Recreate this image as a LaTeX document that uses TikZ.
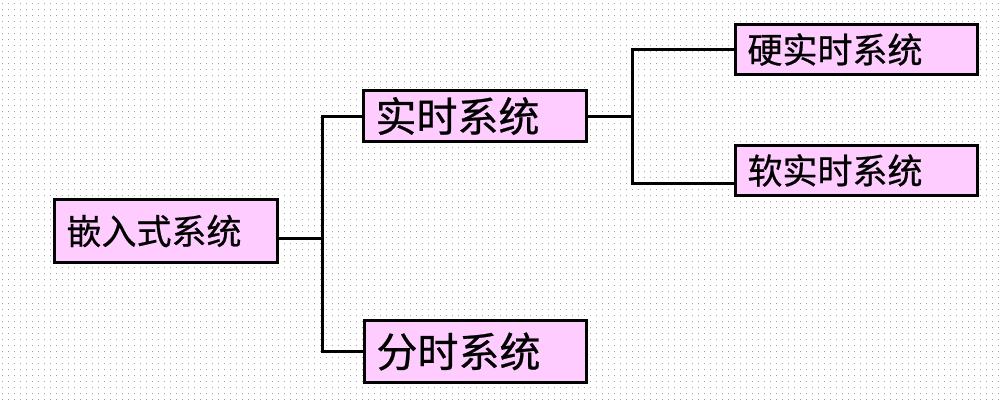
\documentclass[tikz,border=0pt]{standalone}
\usepackage{fontspec}
\newfontfamily\cjk[FakeBold=0.6]{Noto Sans CJK SC}
\definecolor{boxpink}{RGB}{255,204,255}
\definecolor{dotgray}{RGB}{165,165,165}
\tikzset{
  box/.style={draw=black, line width=3pt, fill=boxpink, inner xsep=12pt, inner ysep=0pt,
    font=\cjk\fontsize{35}{35}\selectfont, align=left, anchor=center},
  bigbox/.style={box, font=\cjk\fontsize{41}{41}\selectfont},
  conn/.style={draw=black, line width=3pt},
  dotline/.style={draw=dotgray, line width=1pt, dash pattern=on 1pt off 5pt}
}
\begin{document}
\begin{tikzpicture}[x=1pt,y=-1pt]
\useasboundingbox (0,0) rectangle (1003,400);
\fill[white] (0,0) rectangle (1003,400);
\foreach \yy in {3,9,...,399} { \draw[dotline] (2,\yy) -- (1003,\yy); }
% boxes
\node[box, minimum width=223pt, minimum height=63pt, text width=199pt] (A) at (166,231) {嵌入式系统};
\node[bigbox, minimum width=223pt, minimum height=51pt, text width=199pt] (B) at (475,116) {\raisebox{-5pt}{实时系统}};
\node[bigbox, minimum width=222pt, minimum height=62pt, text width=198pt] (C) at (475.5,351.5) {分时系统};
\node[box, minimum width=242pt, minimum height=50pt, text width=218pt] (D) at (856.5,49.5) {硬实时系统};
\node[box, minimum width=242pt, minimum height=50pt, text width=218pt] (E) at (856.5,170.5) {软实时系统};
% junctions
\coordinate (j1) at (322,238);
\coordinate (j2) at (632,116);
\coordinate (eIn) at (734,183);
% connectors
\draw[conn] (A.east |- j1) -- (j1);
\draw[conn] (B.west) -| (j1) |- (C.west);
\draw[conn] (B.east) -- (j2);
\draw[conn] (D.west) -| (j2) |- (eIn);
\end{tikzpicture}
\end{document}
